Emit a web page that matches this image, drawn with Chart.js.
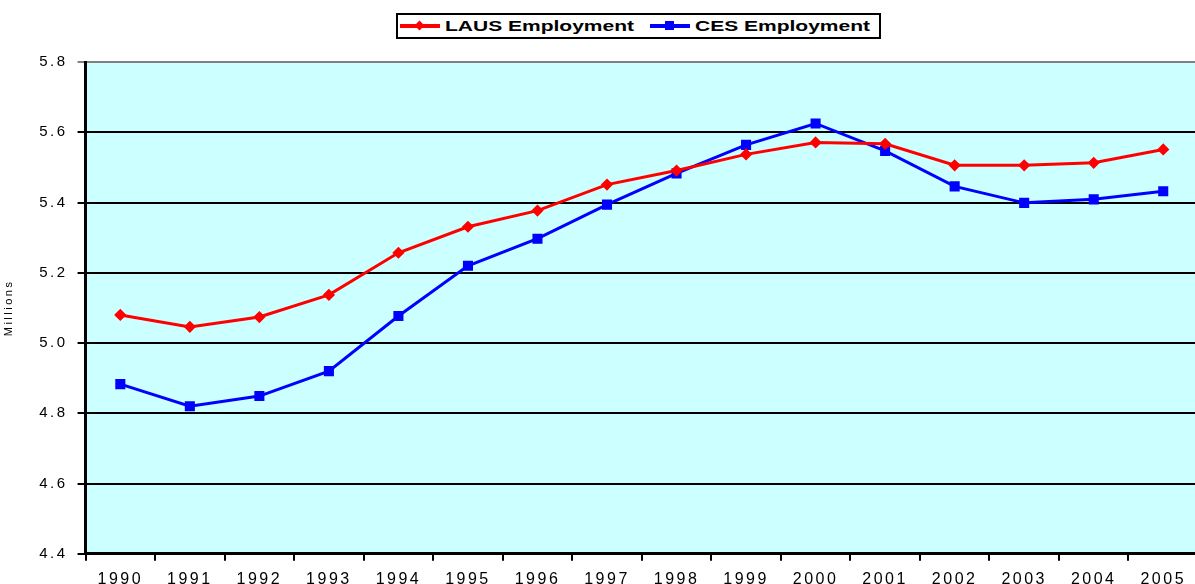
<!DOCTYPE html>
<html>
<head>
<meta charset="utf-8">
<script src="https://cdn.jsdelivr.net/npm/chart.js@4/dist/chart.umd.min.js"></script>
<style>
  html, body { margin: 0; padding: 0; background: #fff; overflow: hidden; }
  #wrap { width: 1206px; height: 584px; position: relative; }
  #legenda { position: absolute; left: 396px; top: 13px; width: 481px; height: 22px;
             border: 2px solid #000; background: #fff; z-index: 2;
             font-family: 'Liberation Sans', Arial, sans-serif; font-weight: bold; font-size: 15px; }
  .item { position: absolute; top: 0; height: 22px; }
  .linha { position: absolute; top: 9px; width: 40px; height: 4px; }
  .marca { position: absolute; }
  .texto { position: absolute; top: 2px; white-space: nowrap; transform-origin: 0 50%; transform: scaleX(1.4); }
</style>
</head>
<body>
<div id="wrap">
  <canvas id="grafico"></canvas>
  <div id="legenda"></div>
</div>
<script>
var years = ['1990','1991','1992','1993','1994','1995','1996','1997','1998','1999','2000','2001','2002','2003','2004','2005'];
var lausEmployment = [5.080, 5.046, 5.074, 5.137, 5.257, 5.331, 5.377, 5.451, 5.491, 5.537, 5.571, 5.567, 5.506, 5.506, 5.513, 5.551];
var cesEmployment = [4.883, 4.820, 4.849, 4.920, 5.077, 5.220, 5.297, 5.394, 5.483, 5.564, 5.625, 5.547, 5.446, 5.399, 5.409, 5.432];
var yTicks = [4.4, 4.6, 4.8, 5.0, 5.2, 5.4, 5.6, 5.8];

// fundo azul claro da area do grafico
var fundo = {
    id: 'fundo',
    beforeDraw: function(chart) {
        var a = chart.chartArea, ctx = chart.ctx;
        ctx.save();
        ctx.fillStyle = '#CCFFFF';
        ctx.fillRect(a.left, a.top, a.right - a.left, a.bottom - a.top);
        ctx.restore();
    }
};

// texto mais largo, como no original
var espaco = {
    id: 'espaco',
    beforeUpdate: function(chart) { chart.ctx.letterSpacing = '2.5px'; },
    beforeDraw: function(chart) { chart.ctx.letterSpacing = '2.5px'; }
};

function montaLegenda(chart) {
    var html = '';
    var posicoes = [2, 252];
    chart.data.datasets.forEach(function(ds, i) {
        var x = posicoes[i];
        var marca = ds.pointStyle === 'rect'
            ? '<div class="marca" style="left:15px;top:6px;width:9px;height:9px;background:' + ds.borderColor + '"></div>'
            : '<div class="marca" style="left:16px;top:7px;width:7px;height:7px;background:' + ds.borderColor + ';transform:rotate(45deg)"></div>';
        html += '<div class="item" style="left:' + x + 'px">' +
            '<div class="linha" style="left:0;background:' + ds.borderColor + '"></div>' + marca +
            '<div class="texto" style="left:45px">' + ds.label + '</div></div>';
    });
    document.getElementById('legenda').innerHTML = html;
}

var ctx = document.getElementById('grafico').getContext('2d');
var grafico = new Chart(ctx, {
    type: 'line',
    data: {
        labels: years,
        datasets: [{
            label: 'LAUS Employment',
            data: lausEmployment,
            borderColor: '#FF0000',
            backgroundColor: '#FF0000',
            borderWidth: 3,
            pointStyle: 'rectRot',
            pointRadius: 4,
            pointHoverRadius: 4,
            tension: 0
        }, {
            label: 'CES Employment',
            data: cesEmployment,
            borderColor: '#0000FF',
            backgroundColor: '#0000FF',
            borderWidth: 3,
            pointStyle: 'rect',
            pointRadius: 5,
            pointHoverRadius: 5,
            tension: 0
        }]
    },
    options: {
        responsive: true,
        maintainAspectRatio: false,
        animation: false,
        layout: { padding: { top: 62, left: 2, right: 0, bottom: -14 } },
        plugins: {
            legend: { display: false },
            tooltip: { enabled: false }
        },
        scales: {
            x: {
                offset: true,
                grid: {
                    offset: true,
                    drawOnChartArea: false,
                    color: '#000',
                    lineWidth: 2,
                    tickLength: 7
                },
                border: { color: '#000', width: 3 },
                ticks: {
                    color: '#000',
                    font: { family: 'Liberation Sans', size: 16 },
                    maxRotation: 0,
                    autoSkip: false,
                    padding: 9
                }
            },
            y: {
                min: 4.4,
                max: 5.8,
                afterBuildTicks: function(scale) {
                    scale.ticks = yTicks.map(function(v) { return { value: v }; });
                },
                grid: {
                    color: function(c) { return c.tick && c.tick.value === 5.8 ? '#808080' : '#000'; },
                    lineWidth: 2,
                    tickLength: 8
                },
                border: { color: '#000', width: 3 },
                ticks: {
                    color: '#000',
                    font: { family: 'Liberation Sans', size: 15 },
                    padding: 10,
                    callback: function(v) { return Number(v).toFixed(1); }
                },
                title: {
                    display: true,
                    text: 'Millions',
                    color: '#000',
                    font: { family: 'Liberation Sans', size: 11 },
                    padding: { top: 0, bottom: 14 }
                }
            }
        }
    },
    plugins: [espaco, fundo]
});
montaLegenda(grafico);
</script>
</body>
</html>
